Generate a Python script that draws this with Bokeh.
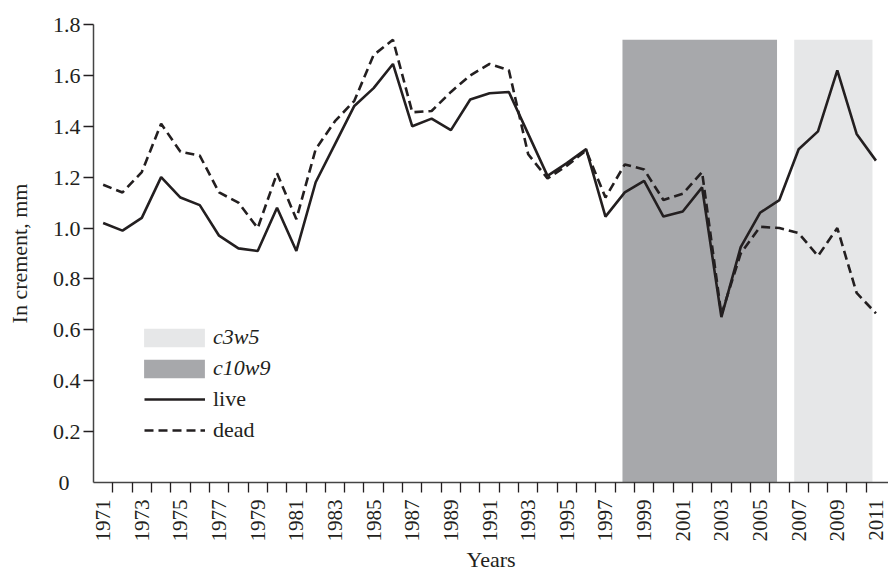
import math
from bokeh.plotting import figure
from bokeh.models import (Range1d, FixedTicker, Legend, LegendItem, Title)
from bokeh.embed import file_html
from bokeh.resources import INLINE

# ---- data ----
years = list(range(1971, 2012))
live = [1.02, 0.99, 1.04, 1.20, 1.12, 1.09, 0.97, 0.92, 0.91, 1.08,
        0.91, 1.18, 1.33, 1.48, 1.55, 1.645, 1.40, 1.43, 1.385, 1.505,
        1.53, 1.535, 1.37, 1.205, 1.255, 1.31, 1.045, 1.14, 1.185, 1.045,
        1.065, 1.16, 0.65, 0.925, 1.06, 1.11, 1.31, 1.38, 1.62, 1.37, 1.265]
dead = [1.17, 1.14, 1.22, 1.41, 1.30, 1.285, 1.14, 1.10, 1.00, 1.215,
        1.035, 1.31, 1.42, 1.50, 1.68, 1.74, 1.455, 1.46, 1.535, 1.60,
        1.645, 1.62, 1.29, 1.195, 1.245, 1.305, 1.12, 1.25, 1.23, 1.11,
        1.135, 1.22, 0.66, 0.90, 1.005, 1.00, 0.98, 0.89, 1.00, 0.745, 0.665]

shade_labels = ["c3w5", "c10w9"]
shade_start = [2006.77, 1997.88]
shade_end = [2010.82, 2005.88]
shade_top = [1.74, 1.74]
shade_colors = ["#e6e7e8", "#a7a8ab"]

ytick_values = [0, 0.2, 0.4, 0.6, 0.8, 1.0, 1.2, 1.4, 1.6, 1.8]
ytick_labels = ["0", "0.2", "0.4", "0.6", "0.8", "1.0", "1.2", "1.4", "1.6", "1.8"]
xtick_years = [y for y in years if y % 2 == 1]
xtick_labels = [str(y) for y in xtick_years]
year_bounds = [y + 0.5 for y in years[:-1]]
x_title = "Years"
y_title = "In crement, mm"

INK = "#231f20"
FONT = "Liberation Serif"

x_start, x_end = 1970.5, 2011.65

p = figure(width=888, height=571, output_backend="svg", toolbar_location=None,
           x_range=Range1d(x_start, x_end), y_range=Range1d(0, 1.8),
           min_border_left=93, min_border_right=0, min_border_top=24,
           min_border_bottom=88)
p.outline_line_color = None
p.xgrid.visible = False
p.ygrid.visible = False
p.background_fill_color = "white"
p.border_fill_color = "white"

renderers_shade = []
for i in range(len(shade_labels)):
    r = p.quad(left=[shade_start[i]], right=[shade_end[i]], bottom=[0], top=[shade_top[i]],
               fill_color=shade_colors[i], line_color=None)
    renderers_shade.append(r)

r_live = p.line(years, live, line_color=INK, line_width=2.6)
r_dead = p.line(years, dead, line_color=INK, line_width=2.6, line_dash="9 5")

xa = p.xaxis[0]
xa.ticker = FixedTicker(ticks=xtick_years, minor_ticks=year_bounds)
xa.major_label_overrides = {y: l for y, l in zip(xtick_years, xtick_labels)}
xa.major_tick_out = 0
xa.major_tick_in = 0
xa.minor_tick_out = 10
xa.minor_tick_in = 0
xa.minor_tick_line_color = INK
xa.minor_tick_line_width = 1.3
xa.major_label_orientation = math.pi / 2
xa.major_label_standoff = 7
xa.major_label_text_font = FONT
xa.major_label_text_font_size = "21px"
xa.major_label_text_color = INK
xa.axis_line_color = "#444444"
xa.axis_line_width = 1.5

p.add_layout(Title(text=x_title, align="center", text_font=FONT, text_font_size="22px",
                   text_font_style="normal", text_color=INK, standoff=0, offset=0),
             "below")

# y axis: labels on all values, tick marks only above zero (drawn as minor ticks)
ya = p.yaxis[0]
ya.ticker = FixedTicker(ticks=ytick_values, minor_ticks=[v for v in ytick_values if v > 0])
ya.major_label_overrides = {v: (l + "\u00a0\u00a0" if v == 0 else l)
                            for v, l in zip(ytick_values, ytick_labels)}
ya.major_tick_out = 0
ya.major_tick_in = 0
ya.minor_tick_out = 10
ya.minor_tick_in = 0
ya.minor_tick_line_color = INK
ya.minor_tick_line_width = 1.3
ya.major_label_standoff = 3
ya.major_label_text_font = FONT
ya.major_label_text_font_size = "22px"
ya.major_label_text_color = INK
ya.axis_label = y_title
ya.axis_label_text_font = FONT
ya.axis_label_text_font_size = "22px"
ya.axis_label_text_font_style = "normal"
ya.axis_label_text_color = INK
ya.axis_label_standoff = 18
ya.axis_line_color = "#444444"
ya.axis_line_width = 1.5

common = dict(padding=0, margin=0, border_line_alpha=0, background_fill_alpha=0,
              label_height=20, spacing=5, label_text_font=FONT,
              label_text_font_size="22px", label_text_color=INK)

leg1 = Legend(items=[LegendItem(label=shade_labels[i], renderers=[renderers_shade[i]])
                     for i in range(len(shade_labels))],
              location=(43, 101), glyph_width=76, glyph_height=23, label_standoff=1,
              label_text_font_style="italic", **common)
leg2 = Legend(items=[LegendItem(label="live", renderers=[r_live]),
                     LegendItem(label="dead", renderers=[r_dead])],
              location=(51, 39), glyph_width=61, glyph_height=20, label_standoff=8,
              **common)
p.add_layout(leg1, "center")
p.add_layout(leg2, "center")

open("out.html", "w").write(file_html(p, INLINE))
